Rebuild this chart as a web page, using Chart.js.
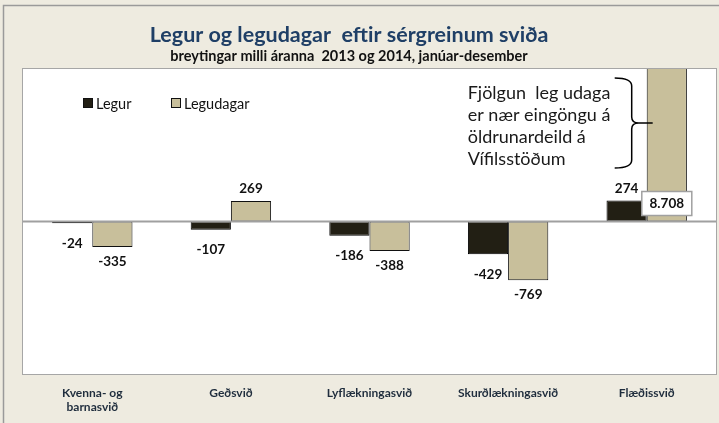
<!DOCTYPE html>
<html>
<head>
<meta charset="utf-8">
<script src="https://cdn.jsdelivr.net/npm/chart.js@4"></script>
<style>
  html, body { margin: 0; padding: 0; background: #eeebe0; }
</style>
</head>
<body>
<canvas id="chart" width="719" height="423"></canvas>
<script>
// data
const categories = [['Kvenna- og', 'barnasvið'], 'Geðsvið', 'Lyflækningasvið', 'Skurðlækningasvið', 'Flæðissvið'];
const legur = [-24, -107, -186, -429, 274];
const legudagar = [-335, 269, -388, -769, 8708];
const yMin = -2000;
const yMax = 2000;

const titleText = 'Legur og legudagar  eftir sérgreinum sviða';
const subtitleText = 'breytingar milli áranna  2013 og 2014, janúar-desember';
const noteLines = ['Fjölgun  leg udaga', 'er nær eingöngu á', 'öldrunardeild á', 'Vífilsstöðum'];

const FONT = 'Lato, "Open Sans", sans-serif';

// 8708 -> 8.708
function fmt(v) {
    const s = String(Math.abs(v)).replace(/\B(?=(\d{3})+(?!\d))/g, '.');
    return (v < 0 ? '-' : '') + s;
}

const decor = {
    id: 'decor',
    beforeDraw(chart) {
        const ctx = chart.ctx;
        const ca = chart.chartArea;
        ctx.save();
        ctx.fillStyle = '#eeebe0';
        ctx.fillRect(0, 0, chart.width, chart.height);
        ctx.strokeStyle = '#9a9a9a';
        ctx.lineWidth = 1.5;
        ctx.strokeRect(3.5, 5.5, chart.width + 10, chart.height + 10);

        ctx.fillStyle = '#ffffff';
        ctx.fillRect(ca.left, ca.top, ca.right - ca.left, ca.bottom - ca.top);
        ctx.strokeStyle = '#a6a6a6';
        ctx.lineWidth = 1;
        ctx.strokeRect(ca.left - 0.5, ca.top - 0.5, ca.right - ca.left + 1, ca.bottom - ca.top + 1);

        ctx.textAlign = 'center';
        ctx.textBaseline = 'middle';
        ctx.fillStyle = '#1f3f66';
        ctx.font = 'bold 21.5px ' + FONT;
        ctx.fillText(titleText, 349, 35);
        ctx.fillStyle = '#111111';
        ctx.font = 'bold 14.5px ' + FONT;
        ctx.fillText(subtitleText, 349, 56);
        ctx.restore();
    },
    afterDatasetsDraw(chart) {
        const ctx = chart.ctx;
        const ca = chart.chartArea;
        const y0 = chart.scales.y.getPixelForValue(0);
        ctx.save();

        // zero line
        ctx.strokeStyle = '#a0a0a0';
        ctx.lineWidth = 2;
        ctx.beginPath();
        ctx.moveTo(ca.left, y0);
        ctx.lineTo(ca.right, y0);
        ctx.stroke();

        // value labels
        ctx.font = 'bold 13.5px ' + FONT;
        ctx.textAlign = 'center';
        ctx.textBaseline = 'middle';
        chart.data.datasets.forEach((ds, i) => {
            const meta = chart.getDatasetMeta(i);
            const negOff = i === 0 ? 20 : 15;
            meta.data.forEach((bar, j) => {
                const v = ds.data[j];
                if (v > yMax) {
                    const w = 50, h = 24, by = y0 - 18;
                    ctx.fillStyle = '#ffffff';
                    ctx.fillRect(bar.x - w / 2, by - h / 2, w, h);
                    ctx.strokeStyle = '#a0a0a0';
                    ctx.lineWidth = 1.5;
                    ctx.strokeRect(bar.x - w / 2, by - h / 2, w, h);
                    ctx.fillStyle = '#111111';
                    ctx.fillText(fmt(v), bar.x, by);
                } else if (v < 0) {
                    ctx.fillStyle = '#111111';
                    ctx.fillText(fmt(v), bar.x, bar.y + negOff);
                } else {
                    ctx.fillStyle = '#111111';
                    ctx.fillText(fmt(v), bar.x, bar.y - 12);
                }
            });
        });

        // legend
        ctx.font = '14.5px ' + FONT;
        ctx.textAlign = 'left';
        const legX = [ca.left + 60, ca.left + 148];
        chart.data.datasets.forEach((ds, i) => {
            const x = legX[i], y = ca.top + 34;
            ctx.fillStyle = ds.backgroundColor;
            ctx.fillRect(x, y - 5, 10, 10);
            ctx.strokeStyle = '#111111';
            ctx.lineWidth = 1;
            ctx.strokeRect(x + 0.5, y - 4.5, 9, 9);
            ctx.fillStyle = '#111111';
            ctx.fillText(ds.label, x + 13, y + 1);
        });

        // note with brace, next to the last category
        const xc = chart.scales.x.getPixelForValue(4);
        ctx.font = '18px ' + FONT;
        ctx.fillStyle = '#1a1a1a';
        noteLines.forEach((t, k) => ctx.fillText(t, xc - 179, ca.top + 24 + k * 22));

        const top = ca.top + 9, bot = ca.top + 99, mid = (top + bot) / 2;
        ctx.strokeStyle = '#000000';
        ctx.lineWidth = 1.5;
        ctx.beginPath();
        ctx.moveTo(xc - 32, top);
        ctx.quadraticCurveTo(xc - 15, top, xc - 15, top + 8);
        ctx.lineTo(xc - 15, mid - 6);
        ctx.quadraticCurveTo(xc - 15, mid, xc - 8, mid);
        ctx.lineTo(xc + 6, mid);
        ctx.moveTo(xc - 8, mid);
        ctx.quadraticCurveTo(xc - 15, mid, xc - 15, mid + 6);
        ctx.lineTo(xc - 15, bot - 8);
        ctx.quadraticCurveTo(xc - 15, bot, xc - 32, bot);
        ctx.stroke();
        ctx.restore();
    }
};

new Chart(document.getElementById('chart'), {
    type: 'bar',
    data: {
        labels: categories,
        datasets: [{
            label: 'Legur',
            data: legur,
            backgroundColor: '#221f14',
            borderColor: '#000000',
            borderWidth: 1,
            borderSkipped: false
        }, {
            label: 'Legudagar',
            data: legudagar,
            backgroundColor: '#c8bf9b',
            borderColor: '#111111',
            borderWidth: 1,
            borderSkipped: false
        }]
    },
    options: {
        responsive: false,
        animation: false,
        devicePixelRatio: 1,
        categoryPercentage: 0.58,
        barPercentage: 1.0,
        layout: { padding: { left: 23, right: 3, top: 69, bottom: 0 } },
        plugins: {
            legend: { display: false },
            tooltip: { enabled: false }
        },
        scales: {
            x: {
                grid: { display: false, drawTicks: false },
                border: { display: false },
                ticks: {
                    color: '#1f2d3d',
                    padding: 12,
                    font: { family: FONT, size: 12, weight: 'bold' }
                },
                afterFit(scale) { scale.height = 49; }
            },
            y: {
                display: false,
                min: yMin,
                max: yMax
            }
        }
    },
    plugins: [decor]
});
</script>
</body>
</html>
